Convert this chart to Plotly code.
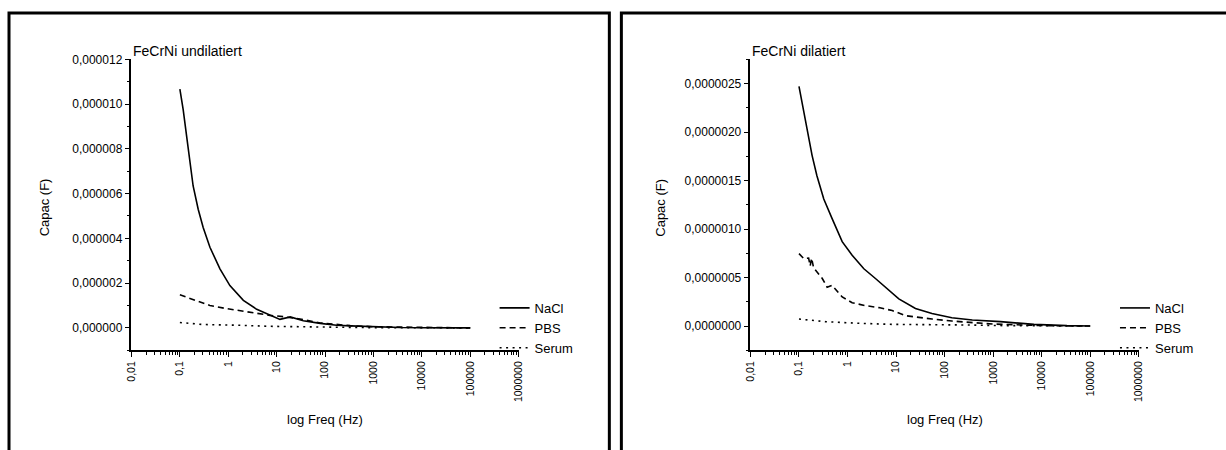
import plotly.graph_objects as go

W, H = 1226, 450
# observed placement of the figure on the photographed canvas: canvas = OFF + K * figure_px
OFF, K = 7.5, 0.988

# ---------------- data (capacitance in F) ----------------
# Left panel: FeCrNi undilatiert
und_nacl_f = [0.1, 0.117, 0.138, 0.161, 0.188, 0.239, 0.303, 0.418, 0.673, 1.08, 2.05, 3.87,
              7.29, 11.7, 19.1, 35.5, 79.4, 174, 331, 1000, 3630, 10000, 100000]
und_nacl_c = [10.67e-6, 9.75e-6, 8.56e-6, 7.45e-6, 6.34e-6, 5.30e-6, 4.49e-6, 3.60e-6, 2.64e-6,
              1.89e-6, 1.23e-6, 0.83e-6, 0.56e-6, 0.38e-6, 0.49e-6, 0.32e-6, 0.20e-6, 0.12e-6,
              0.09e-6, 0.045e-6, 0.015e-6, 0.008e-6, 0.0]
und_pbs_f = [0.1, 0.204, 0.417, 0.927, 2.04, 4.57, 7.24, 13.8, 26.3, 79.4, 331, 1000, 10000, 100000]
und_pbs_c = [1.48e-6, 1.23e-6, 1.00e-6, 0.86e-6, 0.74e-6, 0.64e-6, 0.56e-6, 0.50e-6, 0.42e-6,
             0.22e-6, 0.10e-6, 0.05e-6, 0.012e-6, 0.0]
und_ser_f = [0.1, 0.303, 1.49, 7.29, 174, 1000, 100000]
und_ser_c = [0.24e-6, 0.15e-6, 0.12e-6, 0.07e-6, 0.03e-6, 0.01e-6, 0.0]

# Right panel: FeCrNi dilatiert
dil_nacl_f = [0.1, 0.126, 0.155, 0.186, 0.234, 0.324, 0.479, 0.776, 1.245, 2.17, 3.76, 7.08,
              11.4, 25.1, 55.0, 141, 372, 1410, 6920, 33100, 100000]
dil_nacl_c = [2.47e-6, 2.20e-6, 1.96e-6, 1.76e-6, 1.55e-6, 1.31e-6, 1.11e-6, 0.87e-6, 0.73e-6,
              0.59e-6, 0.49e-6, 0.37e-6, 0.28e-6, 0.18e-6, 0.13e-6, 0.086e-6, 0.062e-6,
              0.045e-6, 0.017e-6, 0.004e-6, 0.0]
dil_pbs_f = [0.1, 0.126, 0.158, 0.17, 0.182, 0.2, 0.302, 0.38, 0.479, 0.776, 1.245, 2.34, 4.42,
             8.32, 15.5, 29.5, 55, 141, 372, 1000, 10000, 100000]
dil_pbs_c = [0.746e-6, 0.695e-6, 0.70e-6, 0.62e-6, 0.70e-6, 0.60e-6, 0.49e-6, 0.40e-6, 0.42e-6,
             0.30e-6, 0.24e-6, 0.21e-6, 0.19e-6, 0.16e-6, 0.107e-6, 0.086e-6, 0.072e-6,
             0.051e-6, 0.038e-6, 0.02e-6, 0.005e-6, 0.0]
dil_ser_f = [0.1, 0.35, 1.7, 8.3, 372, 1000, 100000]
dil_ser_c = [0.072e-6, 0.045e-6, 0.028e-6, 0.017e-6, 0.01e-6, 0.005e-6, 0.0]

x_tickvals = [0.01, 0.1, 1, 10, 100, 1000, 10000, 100000, 1000000]
x_ticktext = ["0,01", "0,1", "1", "10", "100", "1000", "10000", "100000", "1000000"]

FONT = "Arial, Liberation Sans, sans-serif"
BLACK = "#000000"
styles = {"NaCl": dict(dash="solid"), "PBS": dict(dash="6px,4px"), "Serum": dict(dash="2px,4.5px")}

fig = go.Figure()

panels = [
    ("x", "y", "legend", [("NaCl", und_nacl_f, und_nacl_c), ("PBS", und_pbs_f, und_pbs_c),
                          ("Serum", und_ser_f, und_ser_c)]),
    ("x2", "y2", "legend2", [("NaCl", dil_nacl_f, dil_nacl_c), ("PBS", dil_pbs_f, dil_pbs_c),
                             ("Serum", dil_ser_f, dil_ser_c)]),
]
for xa, ya, lg, series in panels:
    for name, f, c in series:
        fig.add_trace(go.Scatter(x=f, y=c, name=name, mode="lines", xaxis=xa, yaxis=ya,
                                 legend=lg,
                                 line=dict(color=BLACK, width=1.6, **styles[name])))

minor_vals = [m * 10 ** e for e in range(-2, 6) for m in range(2, 10)]


def px_x(p):
    # canvas pixel -> paper fraction
    return ((p - OFF) / K) / W


def px_y(p):
    return 1 - ((p - OFF) / K) / H


def xaxis_cfg(x0, x1):
    return dict(type="log", domain=[px_x(x0), px_x(x1)], range=[-2, 6],
                tickmode="array", tickvals=x_tickvals, ticktext=x_ticktext,
                tickangle=-90, ticks="outside", ticklen=5, tickwidth=1.2, tickcolor=BLACK,
                showline=True, linecolor=BLACK, linewidth=1.5, showgrid=False, zeroline=False,
                tickfont=dict(family=FONT, size=10.5, color=BLACK),
                minor=dict(tickmode="array", tickvals=minor_vals, ticks="outside", ticklen=3,
                           tickwidth=1, tickcolor=BLACK, showgrid=False))


def yaxis_cfg(anchor, rng, dtick, fmt):
    return dict(domain=[px_y(352), px_y(60)], range=rng, anchor=anchor,
                tickmode="linear", tick0=0, dtick=dtick, tickformat=fmt,
                ticks="outside", ticklen=5, tickwidth=1.2, tickcolor=BLACK,
                showline=True, linecolor=BLACK, linewidth=1.5, showgrid=False, zeroline=False,
                tickfont=dict(family=FONT, size=12, color=BLACK),
                minor=dict(tickmode="linear", dtick=dtick / 2, ticks="outside", ticklen=3,
                           tickwidth=1, tickcolor=BLACK, showgrid=False))


LX0, LX1 = 131.7, 518.0
RX0, RX1 = 749.3, 1136.7

legend_common = dict(xanchor="left", yanchor="top", bgcolor="rgba(0,0,0,0)",
                     font=dict(family=FONT, size=13, color=BLACK),
                     tracegroupgap=0, itemwidth=30, borderwidth=0)

fig.update_layout(
    width=W, height=H, margin=dict(l=0, r=0, t=0, b=0, pad=0),
    paper_bgcolor="white", plot_bgcolor="white",
    separators=",.",
    font=dict(family=FONT, color=BLACK, size=12),
    xaxis=dict(**xaxis_cfg(LX0, LX1), anchor="y"),
    yaxis=yaxis_cfg("x", [-1e-6, 1.2e-5], 2e-6, ".6f"),
    xaxis2=dict(**xaxis_cfg(RX0, RX1), anchor="y2"),
    yaxis2=yaxis_cfg("x2", [-0.25e-6, 2.75e-6], 0.5e-6, ".7f"),
    legend=dict(x=px_x(494), y=px_y(294.5), **legend_common),
    legend2=dict(x=px_x(1113), y=px_y(294.5), **legend_common),
    showlegend=True,
)

# panel frames
frame = dict(type="rect", xref="paper", yref="paper", line=dict(color=BLACK, width=3),
             fillcolor="rgba(0,0,0,0)", layer="above")
fig.add_shape(**frame, x0=px_x(9.5), x1=px_x(608.5), y0=-0.2, y1=px_y(13.5))
fig.add_shape(**frame, x0=px_x(620.5), x1=1.2, y0=-0.2, y1=px_y(13.5))

ann = []
# panel titles
ann.append(dict(text="FeCrNi undilatiert", x=px_x(131), y=px_y(52), xanchor="left", yanchor="middle",
                font=dict(size=14)))
ann.append(dict(text="FeCrNi dilatiert", x=px_x(749), y=px_y(52), xanchor="left", yanchor="middle",
                font=dict(size=14)))
# axis titles
for cx in [(LX0 + LX1) / 2, (RX0 + RX1) / 2]:
    ann.append(dict(text="log Freq (Hz)", x=px_x(cx), y=px_y(421), xanchor="center",
                    yanchor="middle", font=dict(size=13)))
for cx in [45, 660]:
    ann.append(dict(text="Capac (F)", x=px_x(cx), y=px_y(209), xanchor="center", yanchor="middle",
                    textangle=-90, font=dict(size=13)))
for a in ann:
    a.update(xref="paper", yref="paper", showarrow=False)
    a["font"].update(family=FONT, color=BLACK)
fig.update_layout(annotations=ann)

fig.write_html("out.html")
